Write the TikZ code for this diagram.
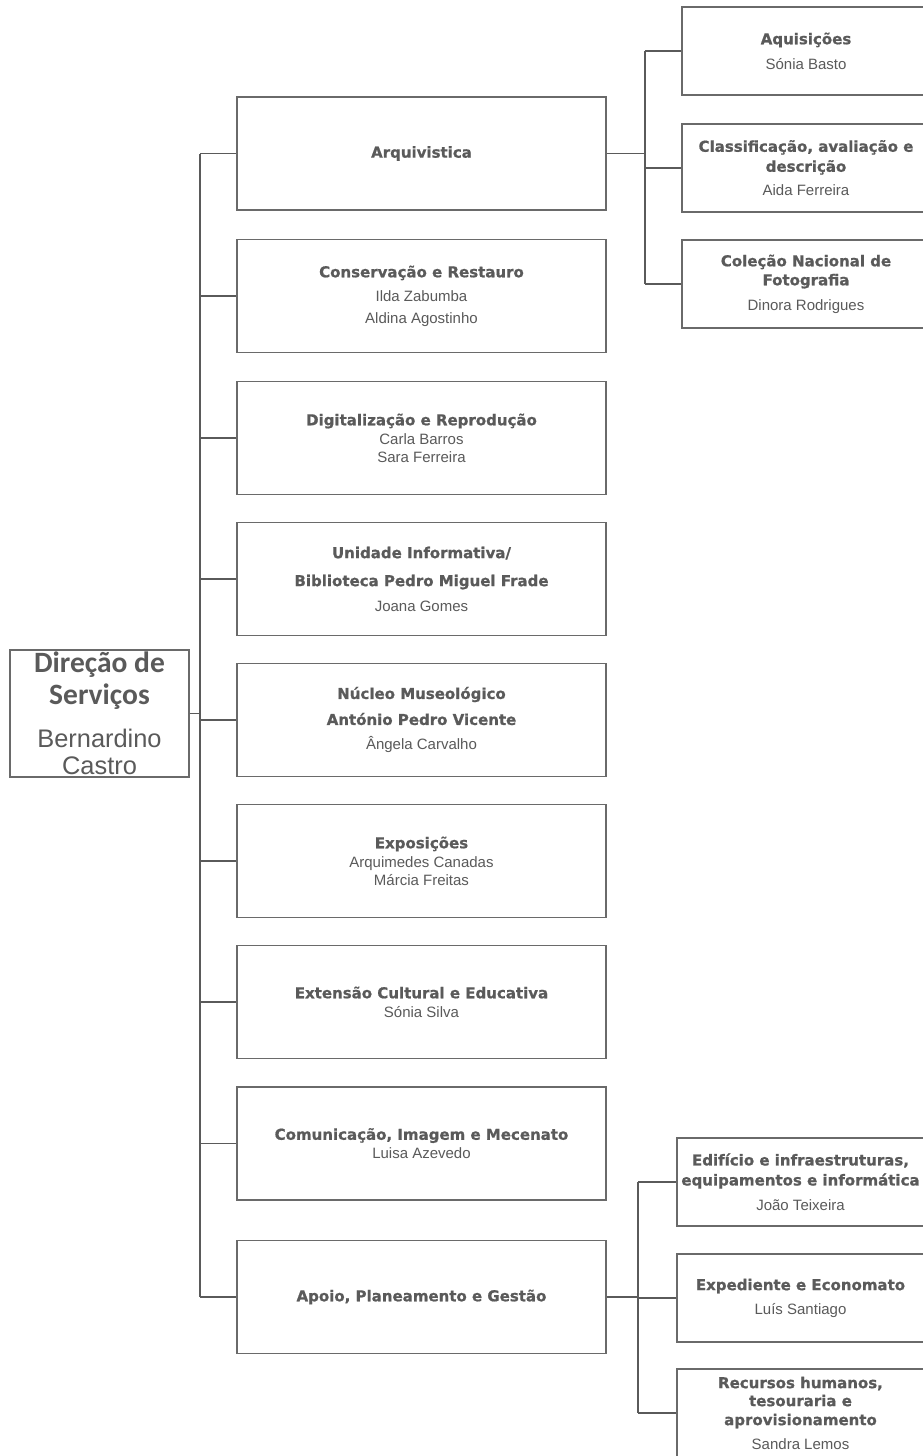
\documentclass[tikz,border=0pt]{standalone}
\usepackage{fontspec}
\setmainfont{Liberation Sans}
\newfontfamily\djv{DejaVu Sans}[BoldFont={DejaVu Sans Bold}, BoldFeatures={FakeBold=0.8}]
\newfontfamily\carl{Carlito}
\definecolor{ln}{HTML}{5A5A5A}
\definecolor{bx}{HTML}{6A6A6A}
\definecolor{tx}{HTML}{5A5A5A}
\newcommand\ttl[1]{{\djv\bfseries #1}}
\begin{document}
\begin{tikzpicture}[x=1pt,y=-1pt,
  box/.style={draw=bx, line width=1.4pt, inner sep=0pt, align=center, text=tx,
    font=\fontsize{15}{20}\selectfont},
  mid/.style={box, minimum width=369pt, minimum height=113pt},
  subbox/.style={box, minimum height=88pt},
  conn/.style={draw=ln, line width=1.9pt}]
\useasboundingbox (0,0) rectangle (922,1456);
\fill[white] (0,0) rectangle (922,1456);

% head
\node[box, minimum width=179pt, minimum height=127pt, font=\fontsize{25.4}{30}\selectfont, text=tx] (dir) at (99.5,713.5)
  {{\carl\bfseries\fontsize{29.5}{30}\selectfont Direção de}\\[2pt]
   {\carl\bfseries\fontsize{29.5}{30}\selectfont Serviços}\\[13pt]
   Bernardino\\[-3pt] Castro};

% middle column
\node[mid] (arq) at (421.5,153.5) {\ttl{Arquivistica}};
\node[mid] (con) at (421.5,296) {\ttl{Conservação e Restauro}\\[4pt] Ilda Zabumba\\[2pt] Aldina Agostinho};
\node[mid] (dig) at (421.5,438) {\ttl{Digitalização e Reprodução}\\[-1pt] Carla Barros\\[-2pt] Sara Ferreira};
\node[mid] (uni) at (421.5,579) {\ttl{Unidade Informativa/}\\[8pt] \ttl{Biblioteca Pedro Miguel Frade}\\[5pt] Joana Gomes};
\node[mid] (nuc) at (421.5,720) {\ttl{Núcleo Museológico}\\[6pt] \ttl{António Pedro Vicente}\\[5pt] Ângela Carvalho};
\node[mid] (exp) at (421.5,861) {\ttl{Exposições}\\[-1pt] Arquimedes Canadas\\[-2pt] Márcia Freitas};
\node[mid] (ext) at (421.5,1002) {\ttl{Extensão Cultural e Educativa}\\[-1pt] Sónia Silva};
\node[mid] (com) at (421.5,1143.5) {\ttl{Comunicação, Imagem e Mecenato}\\[-1pt] Luisa Azevedo};
\node[mid] (apo) at (421.5,1297) {\ttl{Apoio, Planeamento e Gestão}};

% top-right column
\node[subbox, minimum width=248pt] (aqu) at (806,51) {\ttl{Aquisições}\\[5pt] Sónia Basto};
\node[subbox, minimum width=248pt] (cla) at (806,168) {\ttl{Classificação, avaliação e}\\ \ttl{descrição}\\[4pt] Aida Ferreira};
\node[subbox, minimum width=248pt] (col) at (806,284) {\ttl{Coleção Nacional de}\\[-1pt] \ttl{Fotografia}\\[5pt] Dinora Rodrigues};

% bottom-right column
\node[subbox, minimum width=247pt] (edi) at (800.5,1182) {\ttl{Edifício e infraestruturas,}\\ \ttl{equipamentos e informática}\\[5pt] João Teixeira};
\node[subbox, minimum width=247pt] (xpd) at (800.5,1298) {\ttl{Expediente e Economato}\\[4pt] Luís Santiago};
\node[subbox, minimum width=247pt] (rec) at (800.5,1413) {\ttl{Recursos humanos,}\\[-2pt] \ttl{tesouraria e}\\[-1pt] \ttl{aprovisionamento}\\[4pt] Sandra Lemos};

% connectors
\coordinate (sx) at (200,0);
\coordinate (sxa) at (645,0);
\coordinate (sxb) at (638,0);

\draw[conn] (arq.west -| sx) -- (apo.west -| sx);
\foreach \n in {arq,con,dig,uni,nuc,exp,ext,com,apo}
  \draw[conn] (\n.west -| sx) -- (\n.west);
\draw[conn] (dir.east) -- (dir.east -| sx);

\draw[conn] (arq.east) -- (arq.east -| sxa);
\draw[conn] (aqu.west -| sxa) -- (col.west -| sxa);
\foreach \n in {aqu,cla,col}
  \draw[conn] (\n.west -| sxa) -- (\n.west);

\draw[conn] (apo.east) -- (apo.east -| sxb);
\draw[conn] (edi.west -| sxb) -- (rec.west -| sxb);
\foreach \n in {edi,xpd,rec}
  \draw[conn] (\n.west -| sxb) -- (\n.west);
\end{tikzpicture}
\end{document}
